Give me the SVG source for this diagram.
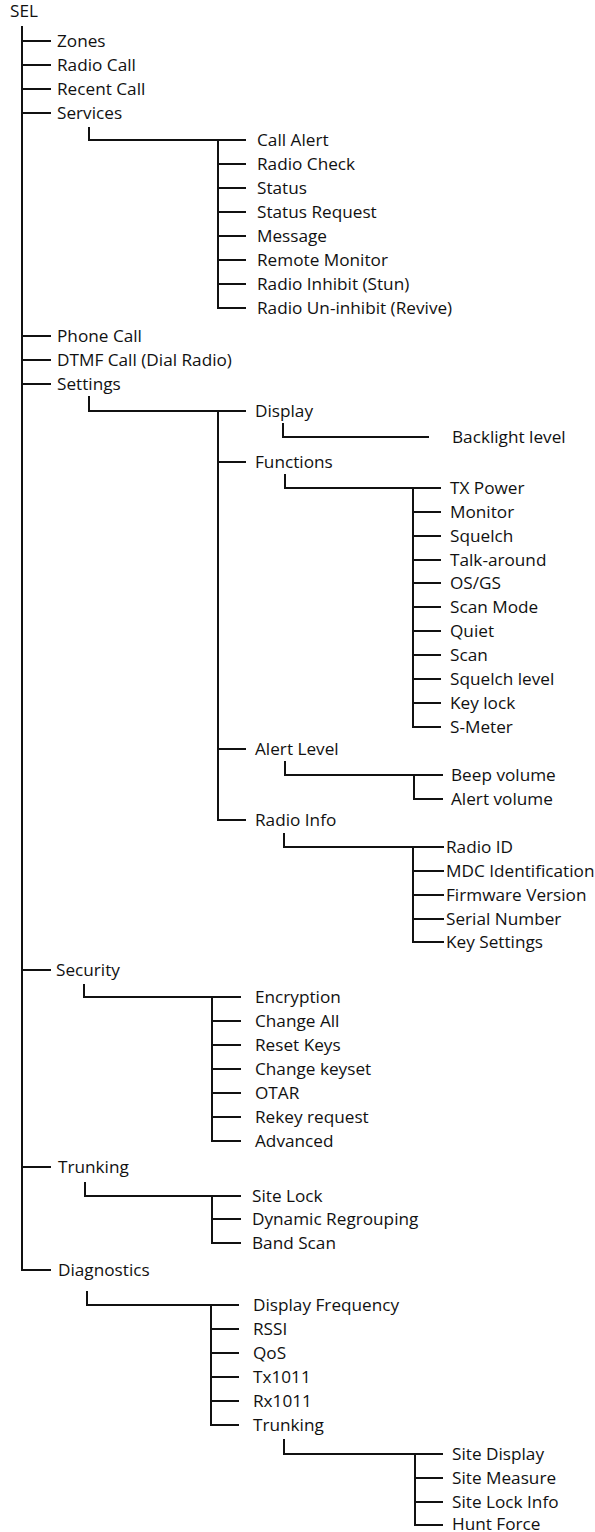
<svg xmlns="http://www.w3.org/2000/svg" width="595" height="1532" viewBox="0 0 595 1532">
<style>
text{font-family:"Open Sans","Liberation Sans",sans-serif;font-size:17.2px;fill:#111}
.c path{fill:none;stroke:#111;stroke-width:2;stroke-linejoin:miter;stroke-linecap:square}
</style>
<rect width="595" height="1532" fill="#fff"/>
<g class="c" id="connectors">
<path d="M22 27V1270H50"/>
<path d="M22 41H50M22 65H50M22 89H50M22 113H50M22 336H50M22 360H50M22 384H50M22 970H50M22 1167H50"/>
<path d="M89 128V140H245M218 140V308H245M218 164H245M218 188H245M218 212H245M218 236H245M218 260H245M218 284H245"/>
<path d="M89 397V411H245M218 411V820H245M218 462H245M218 749H245"/>
<path d="M283 424V437H428"/>
<path d="M285 475V488H440M413 488V727H440M413 512H440M413 536H440M413 560H440M413 583H440M413 607H440M413 631H440M413 655H440M413 679H440M413 703H440"/>
<path d="M285 762V775H442M414 775V799H442"/>
<path d="M284 834V847H443M413 847V942H443M413 871H443M413 895H443M413 919H443"/>
<path d="M84 985V997H240M212 997V1141H240M212 1021H240M212 1045H240M212 1069H240M212 1093H240M212 1117H240"/>
<path d="M85 1183V1196H240M212 1196V1243H240M212 1219H240"/>
<path d="M87 1292V1305H238M211 1305V1425H238M211 1329H238M211 1353H238M211 1377H238M211 1401H238"/>
<path d="M284 1440V1454H442M415 1454V1525H442M415 1478H442M415 1502H442"/>
</g>
<g id="n-sel"><text x="10" y="17">SEL</text></g>
<g id="n-zones"><text x="57" y="47">Zones</text></g>
<g id="n-radiocall"><text x="57" y="71">Radio Call</text></g>
<g id="n-recentcall"><text x="57" y="95">Recent Call</text></g>
<g id="n-services"><text x="57" y="119">Services</text></g>
<g id="n-callalert"><text x="257" y="146">Call Alert</text></g>
<g id="n-radiocheck"><text x="257" y="170">Radio Check</text></g>
<g id="n-status"><text x="257" y="194">Status</text></g>
<g id="n-statusreq"><text x="257" y="218">Status Request</text></g>
<g id="n-message"><text x="257" y="242">Message</text></g>
<g id="n-remotemon"><text x="257" y="266">Remote Monitor</text></g>
<g id="n-inhibit"><text x="257" y="290">Radio Inhibit (Stun)</text></g>
<g id="n-uninhibit"><text x="257" y="314">Radio Un-inhibit (Revive)</text></g>
<g id="n-phonecall"><text x="57" y="342">Phone Call</text></g>
<g id="n-dtmf"><text x="57" y="366">DTMF Call (Dial Radio)</text></g>
<g id="n-settings"><text x="57" y="390">Settings</text></g>
<g id="n-display"><text x="255" y="417">Display</text></g>
<g id="n-backlight"><text x="452" y="443">Backlight level</text></g>
<g id="n-functions"><text x="255" y="468">Functions</text></g>
<g id="n-txpower"><text x="450" y="494">TX Power</text></g>
<g id="n-monitor"><text x="450" y="518">Monitor</text></g>
<g id="n-squelch"><text x="450" y="542">Squelch</text></g>
<g id="n-talkaround"><text x="450" y="566">Talk-around</text></g>
<g id="n-osgs"><text x="450" y="589">OS/GS</text></g>
<g id="n-scanmode"><text x="450" y="613">Scan Mode</text></g>
<g id="n-quiet"><text x="450" y="637">Quiet</text></g>
<g id="n-scan"><text x="450" y="661">Scan</text></g>
<g id="n-squelchlevel"><text x="450" y="685">Squelch level</text></g>
<g id="n-keylock"><text x="450" y="709">Key lock</text></g>
<g id="n-smeter"><text x="450" y="733">S-Meter</text></g>
<g id="n-alertlevel"><text x="255" y="755">Alert Level</text></g>
<g id="n-beep"><text x="451" y="781">Beep volume</text></g>
<g id="n-alertvol"><text x="451" y="805">Alert volume</text></g>
<g id="n-radioinfo"><text x="255" y="826">Radio Info</text></g>
<g id="n-radioid"><text x="446" y="853">Radio ID</text></g>
<g id="n-mdc"><text x="446" y="877">MDC Identification</text></g>
<g id="n-firmware"><text x="446" y="901">Firmware Version</text></g>
<g id="n-serial"><text x="446" y="925">Serial Number</text></g>
<g id="n-keysettings"><text x="446" y="948">Key Settings</text></g>
<g id="n-security"><text x="56" y="976">Security</text></g>
<g id="n-encryption"><text x="255" y="1003">Encryption</text></g>
<g id="n-changeall"><text x="255" y="1027">Change All</text></g>
<g id="n-resetkeys"><text x="255" y="1051">Reset Keys</text></g>
<g id="n-changekeyset"><text x="255" y="1075">Change keyset</text></g>
<g id="n-otar"><text x="255" y="1099">OTAR</text></g>
<g id="n-rekey"><text x="255" y="1123">Rekey request</text></g>
<g id="n-advanced"><text x="255" y="1147">Advanced</text></g>
<g id="n-trunking"><text x="58" y="1173">Trunking</text></g>
<g id="n-sitelock"><text x="252" y="1202">Site Lock</text></g>
<g id="n-dynamic"><text x="252" y="1225">Dynamic Regrouping</text></g>
<g id="n-bandscan"><text x="252" y="1249">Band Scan</text></g>
<g id="n-diagnostics"><text x="58" y="1276">Diagnostics</text></g>
<g id="n-dispfreq"><text x="253" y="1311">Display Frequency</text></g>
<g id="n-rssi"><text x="253" y="1335">RSSI</text></g>
<g id="n-qos"><text x="253" y="1359">QoS</text></g>
<g id="n-tx1011"><text x="253" y="1383">Tx1011</text></g>
<g id="n-rx1011"><text x="253" y="1407">Rx1011</text></g>
<g id="n-diagtrunking"><text x="253" y="1431">Trunking</text></g>
<g id="n-sitedisplay"><text x="452" y="1460">Site Display</text></g>
<g id="n-sitemeasure"><text x="452" y="1484">Site Measure</text></g>
<g id="n-sitelockinfo"><text x="452" y="1508">Site Lock Info</text></g>
<g id="n-huntforce"><text x="452" y="1530">Hunt Force</text></g>
</svg>
